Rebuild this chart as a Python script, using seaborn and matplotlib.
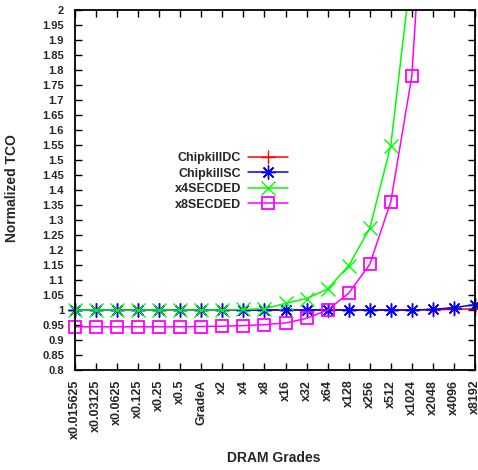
import numpy as np
import pandas as pd
import matplotlib
matplotlib.use("Agg")
import matplotlib.pyplot as plt
import seaborn as sns
from matplotlib.transforms import Bbox, TransformedBbox

grades = ["x0.015625", "x0.03125", "x0.0625", "x0.125", "x0.25", "x0.5", "GradeA",
          "x2", "x4", "x8", "x16", "x32", "x64", "x128", "x256", "x512", "x1024",
          "x2048", "x4096", "x8192"]

chipkill_dc = [1.0, 1.0, 1.0, 1.0, 1.0, 1.0, 1.0, 1.0, 1.0, 1.0, 1.0, 1.0, 1.0,
               1.0, 1.0, 1.0, 1.0, 1.001, 1.002, 1.004]
chipkill_sc = [1.0, 1.0, 1.0, 1.0, 1.0, 1.0, 1.0, 1.0, 1.0, 1.0, 1.0, 1.0, 1.0,
               1.0, 1.0, 1.0, 1.0, 1.002, 1.008, 1.018]
x4_secded = [1.0, 1.0, 1.0, 1.0, 1.0, 1.0, 1.0, 1.0, 1.002, 1.004, 1.022, 1.038,
             1.07, 1.148, 1.272, 1.548, 2.15, np.nan, np.nan, np.nan]
x8_secded = [0.944, 0.944, 0.944, 0.944, 0.944, 0.944, 0.945, 0.946, 0.948, 0.951,
             0.957, 0.972, 1.0, 1.056, 1.152, 1.361, 1.78, 2.9, np.nan, np.nan]

series_names = ["ChipkillDC", "ChipkillSC", "x4SECDED", "x8SECDED"]
series_vals = [chipkill_dc, chipkill_sc, x4_secded, x8_secded]
colors = ["#ff0000", "#0000ff", "#00ff00", "#ff00ff"]
markers = ["+", (8, 2, 0), "x", "s"]
msizes = [10, 10, 10, 8]

yticks = [0.8, 0.85, 0.9, 0.95, 1.0, 1.05, 1.1, 1.15, 1.2, 1.25, 1.3, 1.35, 1.4,
          1.45, 1.5, 1.55, 1.6, 1.65, 1.7, 1.75, 1.8, 1.85, 1.9, 1.95, 2.0]

sns.set_style("ticks")
plt.rcParams["font.family"] = ["Liberation Sans", "DejaVu Sans"]
plt.rcParams["font.weight"] = "bold"

fig = plt.figure(figsize=(4.78, 4.70), dpi=100)
ax = fig.add_axes([75 / 478, 100 / 470, 400 / 478, 360 / 470])

for name, vals, c, m, ms in zip(series_names, series_vals, colors, markers, msizes):
    df = pd.DataFrame({"grade": grades, "tco": vals})
    sns.lineplot(data=df, x="grade", y="tco", ax=ax, color=c, marker=m,
                 markersize=ms, linewidth=1.1,
                 markeredgewidth=1.3 if m == "s" else 1.0,
                 markeredgecolor=c, markerfacecolor="none" if m == "s" else c,
                 label=name, errorbar=None, sort=False)

ax.set_xlim(0, len(grades) - 1)
ax.set_ylim(0.8, 2.0)
ax.set_yticks(yticks)
ax.set_yticklabels([f"{v:g}" for v in yticks])
ax.set_xticks(range(len(grades)))
ax.set_xticklabels(grades, rotation=90, va="top", ha="center")

clip = TransformedBbox(Bbox([[-0.05, 0.0], [1.05, 1.0]]), ax.transAxes)
for ln in ax.lines:
    ln.set_clip_box(clip)

ax.tick_params(direction="in", length=5, width=1.0, top=True, right=True,
               labelsize=8, color="black")
ax.tick_params(axis="y", pad=8)
ax.tick_params(axis="x", pad=7, labelsize=9)
for lab in ax.get_xticklabels() + ax.get_yticklabels():
    lab.set_fontweight("bold")
for sp in ax.spines.values():
    sp.set_visible(True)
    sp.set_linewidth(1.3)
    sp.set_color("black")

ax.set_xlabel("")
ax.set_ylabel("")
fig.text(274 / 478, 1 - 458 / 470, "DRAM Grades", ha="center", va="center",
         fontsize=10, fontweight="bold")
fig.text(12 / 478, 1 - 188 / 470, "Normalized TCO", ha="center", va="center",
         rotation=90, fontsize=10, fontweight="bold")

handles, labels = ax.get_legend_handles_labels()
leg = ax.legend(handles, labels, loc="upper right",
                bbox_to_anchor=(288 / 478, 1 - 152 / 470),
                bbox_transform=fig.transFigure, frameon=False, markerfirst=False,
                handlelength=3.2, handletextpad=0.55, labelspacing=0.28,
                borderpad=0, borderaxespad=0, numpoints=1,
                prop={"size": 9, "weight": "bold"})

fig.savefig("out.png", dpi=100)
